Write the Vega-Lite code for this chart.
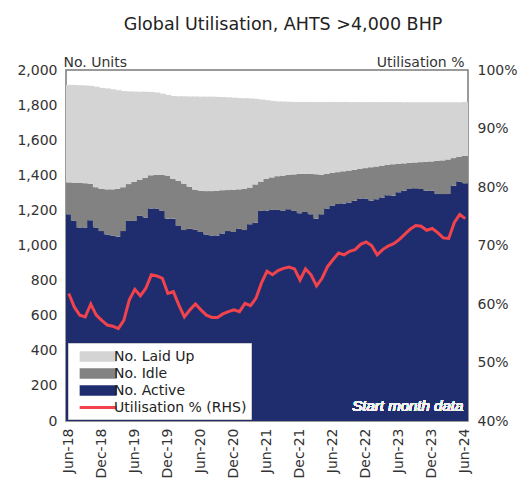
{
  "$schema": "https://vega.github.io/schema/vega-lite/v6.json",
  "width": 402,
  "height": 351,
  "autosize": {"type": "none"},
  "padding": {"left": 66, "top": 70, "right": 52, "bottom": 58},
  "background": "white",
  "config": {
    "font": "DejaVu Sans",
    "view": {"stroke": "#7a7a7a", "strokeWidth": 1.5},
    "axis": {"labelFont": "DejaVu Sans", "titleFont": "DejaVu Sans", "labelColor": "#333333", "titleColor": "#333333", "labelFontSize": 14, "titleFontSize": 14, "titleFontWeight": "normal", "grid": false, "ticks": false, "domain": false}
  },
  "title": {"text": "Global Utilisation, AHTS >4,000 BHP", "fontSize": 17.5, "fontWeight": "normal", "color": "#222222", "font": "DejaVu Sans", "anchor": "middle", "dx": 16, "offset": 22},
  "data": {"values": [
    {"m":"2018-06","a":1178,"i":182,"l":555,"u":61.8},
    {"m":"2018-07","a":1140,"i":218,"l":557,"u":59.5},
    {"m":"2018-08","a":1102,"i":254,"l":557,"u":58.1},
    {"m":"2018-09","a":1102,"i":253,"l":557,"u":57.8},
    {"m":"2018-10","a":1144,"i":208,"l":558,"u":60.0},
    {"m":"2018-11","a":1102,"i":230,"l":573,"u":58.1},
    {"m":"2018-12","a":1082,"i":240,"l":576,"u":57.2},
    {"m":"2019-01","a":1063,"i":257,"l":575,"u":56.4},
    {"m":"2019-02","a":1057,"i":263,"l":570,"u":56.2},
    {"m":"2019-03","a":1050,"i":272,"l":563,"u":55.8},
    {"m":"2019-04","a":1082,"i":250,"l":548,"u":57.2},
    {"m":"2019-05","a":1140,"i":210,"l":528,"u":60.7},
    {"m":"2019-06","a":1140,"i":222,"l":515,"u":62.5},
    {"m":"2019-07","a":1169,"i":206,"l":501,"u":61.4},
    {"m":"2019-08","a":1160,"i":225,"l":491,"u":62.7},
    {"m":"2019-09","a":1211,"i":189,"l":475,"u":65.0},
    {"m":"2019-10","a":1211,"i":191,"l":470,"u":64.8},
    {"m":"2019-11","a":1197,"i":205,"l":463,"u":64.4},
    {"m":"2019-12","a":1153,"i":245,"l":460,"u":61.8},
    {"m":"2020-01","a":1153,"i":227,"l":472,"u":62.1},
    {"m":"2020-02","a":1111,"i":257,"l":482,"u":59.8},
    {"m":"2020-03","a":1088,"i":264,"l":498,"u":57.8},
    {"m":"2020-04","a":1095,"i":240,"l":514,"u":59.0},
    {"m":"2020-05","a":1091,"i":227,"l":531,"u":60.0},
    {"m":"2020-06","a":1077,"i":235,"l":536,"u":59.0},
    {"m":"2020-07","a":1063,"i":247,"l":538,"u":58.1},
    {"m":"2020-08","a":1057,"i":253,"l":538,"u":57.7},
    {"m":"2020-09","a":1057,"i":255,"l":535,"u":57.7},
    {"m":"2020-10","a":1069,"i":246,"l":531,"u":58.3},
    {"m":"2020-11","a":1082,"i":234,"l":528,"u":58.7},
    {"m":"2020-12","a":1077,"i":241,"l":524,"u":59.0},
    {"m":"2021-01","a":1095,"i":225,"l":520,"u":58.7},
    {"m":"2021-02","a":1088,"i":234,"l":517,"u":60.1},
    {"m":"2021-03","a":1121,"i":209,"l":508,"u":59.7},
    {"m":"2021-04","a":1130,"i":218,"l":488,"u":61.0},
    {"m":"2021-05","a":1197,"i":167,"l":468,"u":63.6},
    {"m":"2021-06","a":1200,"i":179,"l":449,"u":65.6},
    {"m":"2021-07","a":1203,"i":185,"l":436,"u":65.0},
    {"m":"2021-08","a":1203,"i":192,"l":426,"u":65.7},
    {"m":"2021-09","a":1197,"i":201,"l":422,"u":66.1},
    {"m":"2021-10","a":1207,"i":195,"l":417,"u":66.3},
    {"m":"2021-11","a":1197,"i":208,"l":413,"u":66.0},
    {"m":"2021-12","a":1184,"i":224,"l":410,"u":64.1},
    {"m":"2022-01","a":1191,"i":217,"l":410,"u":66.0},
    {"m":"2022-02","a":1178,"i":230,"l":410,"u":65.0},
    {"m":"2022-03","a":1153,"i":253,"l":412,"u":63.1},
    {"m":"2022-04","a":1178,"i":224,"l":416,"u":64.4},
    {"m":"2022-05","a":1211,"i":197,"l":410,"u":66.4},
    {"m":"2022-06","a":1226,"i":188,"l":404,"u":67.6},
    {"m":"2022-07","a":1236,"i":182,"l":400,"u":68.7},
    {"m":"2022-08","a":1240,"i":183,"l":395,"u":68.4},
    {"m":"2022-09","a":1245,"i":182,"l":390,"u":69.0},
    {"m":"2022-10","a":1255,"i":176,"l":386,"u":69.3},
    {"m":"2022-11","a":1268,"i":168,"l":381,"u":70.2},
    {"m":"2022-12","a":1268,"i":173,"l":376,"u":70.6},
    {"m":"2023-01","a":1255,"i":191,"l":371,"u":70.0},
    {"m":"2023-02","a":1264,"i":186,"l":367,"u":68.4},
    {"m":"2023-03","a":1274,"i":181,"l":362,"u":69.3},
    {"m":"2023-04","a":1287,"i":173,"l":357,"u":69.9},
    {"m":"2023-05","a":1284,"i":179,"l":354,"u":70.3},
    {"m":"2023-06","a":1303,"i":163,"l":351,"u":71.0},
    {"m":"2023-07","a":1312,"i":156,"l":348,"u":71.9},
    {"m":"2023-08","a":1322,"i":149,"l":345,"u":72.8},
    {"m":"2023-09","a":1326,"i":147,"l":343,"u":73.4},
    {"m":"2023-10","a":1322,"i":153,"l":341,"u":73.3},
    {"m":"2023-11","a":1312,"i":165,"l":339,"u":72.6},
    {"m":"2023-12","a":1312,"i":167,"l":337,"u":72.9},
    {"m":"2024-01","a":1293,"i":189,"l":334,"u":72.2},
    {"m":"2024-02","a":1293,"i":192,"l":331,"u":71.3},
    {"m":"2024-03","a":1293,"i":197,"l":326,"u":71.2},
    {"m":"2024-04","a":1341,"i":157,"l":318,"u":73.9},
    {"m":"2024-05","a":1364,"i":141,"l":311,"u":75.3},
    {"m":"2024-06","a":1355,"i":155,"l":308,"u":74.6}
  ]},
  "layer": [
    {
      "transform": [{"fold": ["a", "i", "l"], "as": ["s", "v"]}],
      "mark": {"type": "bar", "strokeWidth": 0, "width": {"band": 1.25}, "clip": true},
      "encoding": {
        "x": {"field": "m", "type": "ordinal", "scale": {"paddingInner": 0, "paddingOuter": 0},
              "axis": {"title": null, "labelAngle": -90, "labelPadding": 7, "labelOverlap": false,
                       "labelExpr": "substring(datum.value,5,7)=='06' ? 'Jun-' + substring(datum.value,2,4) : (substring(datum.value,5,7)=='12' ? 'Dec-' + substring(datum.value,2,4) : '')"}},
        "y": {"field": "v", "type": "quantitative", "stack": "zero", "scale": {"domain": [0, 2000], "nice": false},
              "axis": {"title": "No. Units", "titleAngle": 0, "titleAlign": "left", "titleBaseline": "alphabetic", "titleX": -3, "titleY": -4, "values": [0,200,400,600,800,1000,1200,1400,1600,1800,2000], "format": ",.0f", "labelPadding": 9}},
        "color": {"field": "s", "type": "nominal",
                  "scale": {"domain": ["l", "i", "a", "u"], "range": ["#d4d4d4", "#828282", "#1f2d6e", "#f2434d"]},
                  "legend": {"orient": "none", "legendX": 2, "legendY": 273, "title": null, "direction": "vertical",
                             "fillColor": "white", "strokeColor": "#cccccc", "padding": 4, "rowPadding": 0,
                             "labelFontSize": 14, "labelColor": "#222222", "labelFont": "DejaVu Sans", "labelOffset": 23,
                             "symbolSize": 342, "symbolStrokeWidth": 0,
                             "labelExpr": "datum.value=='l' ? 'No. Laid Up' : (datum.value=='i' ? 'No. Idle' : (datum.value=='a' ? 'No. Active' : 'Utilisation % (RHS)'))",
                             "encode": {"symbols": {"update": {
                               "shape": {"signal": "datum.value=='u' ? 'M-0.2,-0.16H3.8V0.16H-0.2Z' : 'M-0.2,-0.56H3.8V0.56H-0.2Z'"},
                               "fill": {"scale": "color", "field": "value"},
                               "stroke": {"value": "transparent"},
                               "opacity": {"value": 1}}}}}},
        "order": {"field": "s", "type": "nominal", "sort": "ascending"}
      }
    },
    {
      "mark": {"type": "line", "strokeWidth": 3, "interpolate": "linear"},
      "encoding": {
        "x": {"field": "m", "type": "ordinal"},
        "y": {"field": "u", "type": "quantitative", "scale": {"domain": [40, 100], "nice": false},
              "axis": {"orient": "right", "title": "Utilisation %", "titleAngle": 0, "titleAlign": "right", "titleBaseline": "alphabetic", "titleX": -4, "titleY": -4, "values": [40,50,60,70,80,90,100], "labelExpr": "datum.value + '%'", "labelPadding": 9}},
        "color": {"datum": "u", "type": "nominal"}
      }
    },
    {
      "mark": {"type": "text", "align": "right", "baseline": "middle", "dx": -2, "fontStyle": "italic", "fontWeight": "normal", "fontSize": 15, "color": "#f2f2f2", "font": "Liberation Sans"},
      "encoding": {
        "x": {"datum": "2024-06", "type": "ordinal"},
        "y": {"datum": 86, "type": "quantitative", "scale": {"domain": [0, 2000], "nice": false}, "axis": null},
        "text": {"value": "Start month data"}
      }
    }
  ],
  "resolve": {"scale": {"y": "independent"}}
}
